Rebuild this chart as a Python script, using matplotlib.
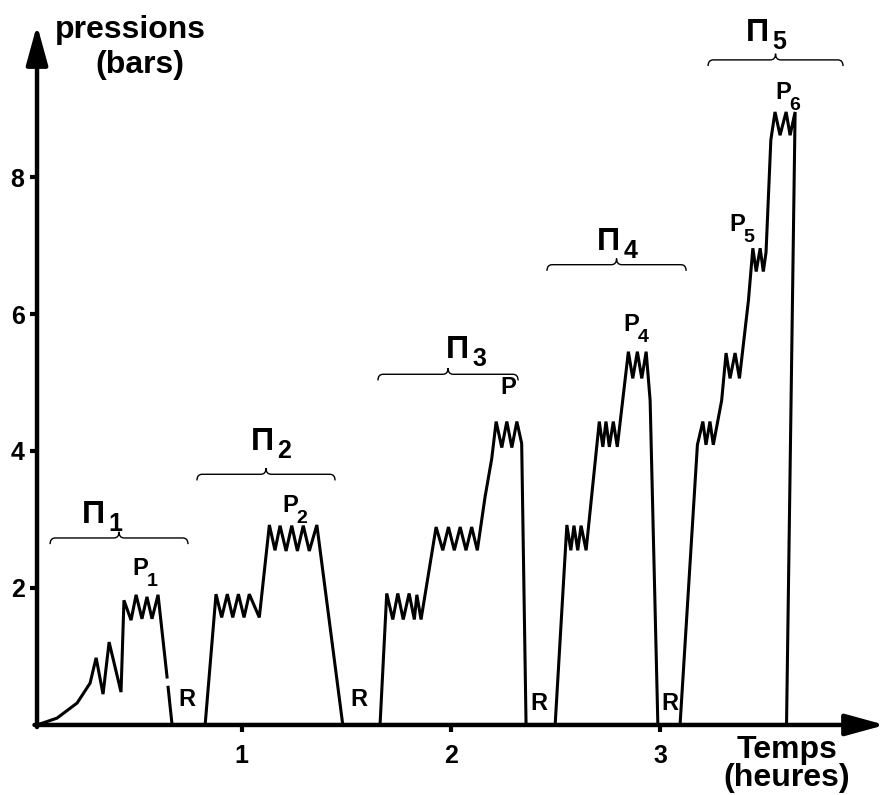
import matplotlib.pyplot as plt
import numpy as np
from matplotlib.path import Path
from matplotlib.patches import PathPatch

plt.rcParams['font.family'] = ['Liberation Sans', 'DejaVu Sans']
plt.rcParams['font.weight'] = 'bold'

nan = np.nan

# Pressure (bars) against time (hours) for the five cycles
t1 = [0.0215, 0.117, 0.213, 0.275, 0.304, 0.337, 0.366, 0.423, 0.437, 0.471, 0.495,
      0.523, 0.547, 0.571, 0.600, 0.643, nan, 0.648, 0.667]
p1 = [0, 0.10, 0.32, 0.61, 0.98, 0.45, 1.21, 0.48, 1.82, 1.53, 1.90,
      1.55, 1.87, 1.55, 1.90, 0.70, nan, 0.55, 0]

t2 = [0.825, 0.877, 0.904, 0.931, 0.957, 0.984, 1.011, 1.036, 1.084, 1.132, 1.159,
      1.183, 1.212, 1.239, 1.266, 1.294, 1.323, 1.359, 1.483]
p2 = [0, 1.91, 1.57, 1.91, 1.57, 1.91, 1.57, 1.91, 1.57, 2.92, 2.55,
      2.91, 2.54, 2.91, 2.54, 2.91, 2.54, 2.92, 0]

t3 = [1.661, 1.693, 1.722, 1.746, 1.772, 1.800, 1.825, 1.837, 1.857, 1.929, 1.961,
      1.988, 2.016, 2.044, 2.072, 2.099, 2.126, 2.163, 2.195, 2.216, 2.243, 2.267,
      2.291, 2.315, 2.338, 2.359]
p3 = [0, 1.92, 1.54, 1.92, 1.54, 1.92, 1.54, 1.90, 1.54, 2.89, 2.55,
      2.89, 2.55, 2.89, 2.55, 2.89, 2.55, 3.33, 3.89, 4.43, 4.05, 4.43,
      4.05, 4.43, 4.11, 0]

t4 = [2.498, 2.554, 2.573, 2.588, 2.606, 2.622, 2.646, 2.709, 2.726, 2.741, 2.757,
      2.776, 2.795, 2.848, 2.869, 2.891, 2.912, 2.933, 2.952, 2.989]
p4 = [0, 2.92, 2.55, 2.91, 2.55, 2.91, 2.55, 4.43, 4.06, 4.43, 4.06,
      4.43, 4.06, 5.45, 5.06, 5.45, 5.06, 5.45, 4.74, 0]

t5 = [3.095, 3.178, 3.204, 3.219, 3.238, 3.254, 3.294, 3.315, 3.334, 3.358, 3.379,
      3.422, 3.443, 3.459, 3.478, 3.493, 3.506, 3.529, 3.549, 3.573, 3.602, 3.621,
      3.645, 3.604]
p5 = [0, 4.09, 4.43, 4.09, 4.43, 4.09, 4.74, 5.43, 5.06, 5.43, 5.06,
      6.20, 6.96, 6.62, 6.96, 6.62, 6.90, 8.54, 8.95, 8.61, 8.95, 8.61,
      8.95, 0]

# cycle brackets: start, end, height
cycles = ['1', '2', '3', '4', '5']
brace_x0 = [0.084, 0.786, 1.651, 2.459, 3.229]
brace_x1 = [0.743, 1.446, 2.321, 3.124, 3.874]
brace_y = [2.73, 3.66, 5.12, 6.72, 9.71]

x_ticks = [1, 2, 3]
y_ticks = [2, 4, 6, 8]

fig = plt.figure(figsize=(8.88, 7.95), dpi=100)
ax = fig.add_axes([0.0417, 0.0881, 0.955, 0.8805])
ax.set_xlim(0.0215, 4.075)
ax.set_ylim(0, 10.22)

for t, p in [(t1, p1), (t2, p2), (t3, p3), (t4, p4), (t5, p5)]:
    ax.plot(t, p, color='black', lw=2.2, solid_joinstyle='miter', clip_on=False)

# axes as thick arrows
for spine in ax.spines.values():
    spine.set_visible(False)
arrow = dict(arrowstyle='-|>,head_length=1.2,head_width=0.33', lw=3.2,
             color='black', mutation_scale=20, shrinkA=0, shrinkB=0)
ax.annotate('', xy=(0, 1), xytext=(0, -0.003), xycoords='axes fraction', arrowprops=arrow)
ax.annotate('', xy=(1, 0), xytext=(-0.003, 0), xycoords='axes fraction', arrowprops=arrow)

ax.set_xticks(x_ticks)
ax.set_yticks(y_ticks)
ax.set_xticklabels([str(v) for v in x_ticks], fontsize=18, fontweight='bold')
ax.set_yticklabels([str(v) for v in y_ticks], fontsize=18, fontweight='bold')
ax.tick_params(axis='both', direction='out', length=5, width=3)
ax.tick_params(axis='x', pad=9)
ax.tick_params(axis='y', pad=4)


def brace(x0, x1, y, d=0.09, w=0.025):
    xm = (x0 + x1) / 2
    verts = [(x0, y - d), (x0, y), (x0 + w, y), (xm - w, y), (xm, y), (xm, y + d),
             (xm, y), (xm + w, y), (x1 - w, y), (x1, y), (x1, y - d)]
    codes = [Path.MOVETO, Path.CURVE3, Path.CURVE3, Path.LINETO, Path.CURVE3, Path.CURVE3,
             Path.CURVE3, Path.CURVE3, Path.LINETO, Path.CURVE3, Path.CURVE3]
    ax.add_patch(PathPatch(Path(verts, codes), fill=False, lw=1.0, color='black',
                           clip_on=False))


for x0, x1, y in zip(brace_x0, brace_x1, brace_y):
    brace(x0, x1, y)

# cycle labels
pi_pos = [(0.290, 3.07), (1.097, 4.13), (2.030, 5.47), (2.755, 7.05), (3.463, 10.10)]
for c, (x, y) in zip(cycles, pi_pos):
    ax.text(x, y, 'Π', fontsize=23, ha='center', va='center')
    ax.text(x + 0.105, y - 0.13, c, fontsize=18, ha='center', va='center')

# pressure labels
p_pos = [(0.514, 2.29, '1'), (1.231, 3.20, '2'), (2.273, 4.92, ''), (2.861, 5.84, '4'),
         (3.368, 7.30, '5'), (3.588, 9.24, '6')]
for x, y, s in p_pos:
    ax.text(x, y, 'P', fontsize=17, ha='center', va='center')
    if s:
        ax.text(x + 0.056, y - 0.19, s, fontsize=14, ha='center', va='center')

for x, y in [(0.739, 0.365), (1.561, 0.365), (2.421, 0.32), (3.047, 0.32)]:
    ax.text(x, y, 'R', fontsize=17, ha='center', va='center')

ax.text(0.466, 10.15, 'pressions', fontsize=23, ha='center', va='center')
ax.text(0.514, 9.64, '(bars)', fontsize=23, ha='center', va='center')
ax.text(3.607, -0.37, 'Temps', fontsize=23, ha='center', va='center')
ax.text(3.607, -0.77, '(heures)', fontsize=23, ha='center', va='center')

plt.savefig('out.png', dpi=100)
